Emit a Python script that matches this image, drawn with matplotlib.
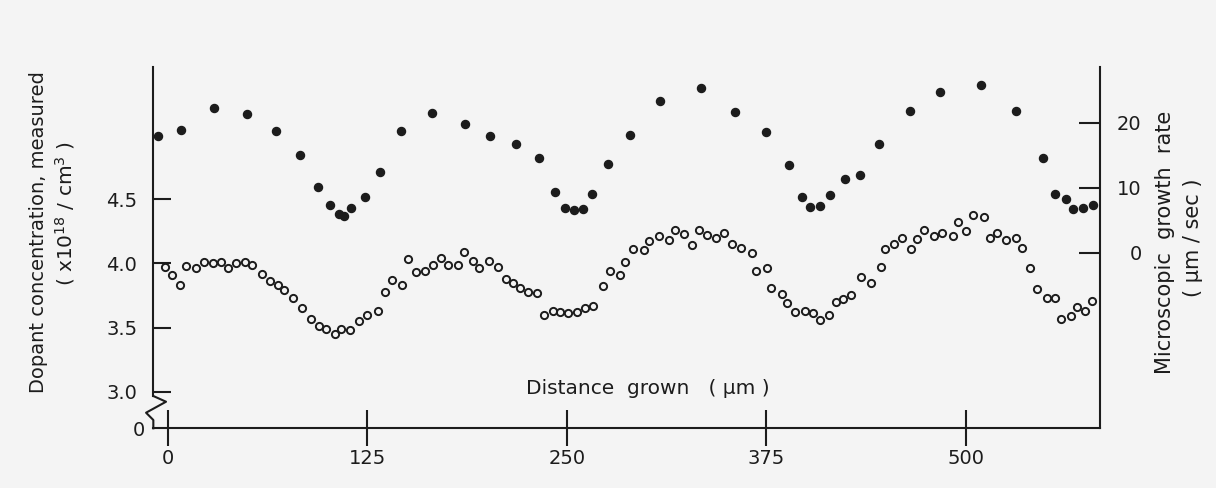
import matplotlib.pyplot as plt

# distance grown (um) and microscopic growth rate (um/sec), filled dots
x_rate = [-5.9, 8.5, 29.4, 49.8, 67.9, 83.1, 94.4, 101.9, 107.1, 110.6,
          115.0, 123.4, 133.0, 146.3, 165.7, 186.2, 201.8, 218.1, 232.5, 242.8,
          248.8, 254.5, 260.1, 265.8, 276.0, 289.6, 308.6, 334.0, 355.3, 374.9,
          389.3, 397.3, 402.4, 408.6, 414.8, 424.1, 433.5, 445.6, 464.8, 484.0,
          509.3, 531.3, 548.4, 555.5, 562.4, 567.2, 573.4, 579.7]
rate = [17.9, 18.9, 22.2, 21.3, 18.8, 15.1, 10.1, 7.4, 6.0, 5.6,
        6.9, 8.5, 12.4, 18.7, 21.5, 19.8, 17.9, 16.7, 14.5, 9.3,
        6.9, 6.6, 6.8, 9.0, 13.6, 18.1, 23.3, 25.4, 21.6, 18.6,
        13.5, 8.5, 7.0, 7.2, 8.9, 11.4, 11.9, 16.8, 21.8, 24.7,
        25.8, 21.8, 14.5, 9.0, 8.2, 6.7, 6.9, 7.3]

# distance grown (um) and measured dopant concentration (x10^18 /cm^3), open circles
x_conc = [-1.6, 3.0, 7.6, 11.4, 17.8, 22.7, 28.3, 33.7, 38.1, 43.1,
          48.5, 52.9, 59.4, 64.4, 69.2, 72.9, 78.6, 84.2, 89.7, 94.9,
          99.4, 104.7, 108.8, 114.3, 120.1, 125.1, 131.6, 136.4, 140.4, 146.6,
          150.6, 155.4, 161.4, 166.1, 171.3, 175.8, 181.7, 185.5, 191.5, 195.2,
          201.6, 206.8, 212.1, 216.3, 220.9, 225.9, 231.6, 235.9, 241.2, 246.0,
          251.0, 256.4, 261.4, 266.2, 272.5, 277.1, 283.3, 286.7, 291.7, 298.2,
          301.5, 307.8, 314.0, 317.6, 323.4, 328.4, 332.8, 338.0, 343.3, 348.5,
          353.7, 359.1, 365.8, 368.5, 375.2, 377.9, 384.6, 387.9, 393.1, 399.4,
          403.9, 408.8, 413.9, 418.7, 423.0, 428.0, 434.1, 440.3, 447.0, 449.5,
          455.1, 459.9, 465.6, 469.1, 473.5, 480.0, 485.0, 492.0, 495.2, 499.8,
          504.4, 511.1, 514.8, 519.6, 525.2, 531.3, 534.9, 539.9, 544.6, 550.5,
          555.5, 559.7, 565.6, 569.5, 574.7, 579.1]
conc = [3.97, 3.91, 3.83, 3.98, 3.96, 4.01, 4.00, 4.01, 3.96, 4.00,
        4.01, 3.99, 3.92, 3.86, 3.83, 3.79, 3.73, 3.65, 3.57, 3.51,
        3.49, 3.45, 3.49, 3.48, 3.55, 3.60, 3.63, 3.78, 3.87, 3.83,
        4.03, 3.93, 3.94, 3.99, 4.04, 3.99, 3.99, 4.09, 4.02, 3.96,
        4.02, 3.97, 3.88, 3.85, 3.81, 3.78, 3.77, 3.60, 3.63, 3.62,
        3.61, 3.62, 3.65, 3.67, 3.82, 3.94, 3.91, 4.01, 4.11, 4.10,
        4.17, 4.21, 4.18, 4.26, 4.23, 4.14, 4.26, 4.22, 4.20, 4.24,
        4.15, 4.12, 4.08, 3.94, 3.96, 3.81, 3.76, 3.69, 3.62, 3.63,
        3.61, 3.56, 3.60, 3.70, 3.72, 3.75, 3.89, 3.85, 3.97, 4.11,
        4.15, 4.20, 4.11, 4.19, 4.26, 4.21, 4.24, 4.21, 4.32, 4.25,
        4.38, 4.36, 4.20, 4.24, 4.18, 4.20, 4.12, 3.96, 3.80, 3.73,
        3.73, 3.57, 3.59, 3.66, 3.63, 3.71]

x_ticks = [0, 125, 250, 375, 500]
conc_ticks = [3.0, 3.5, 4.0, 4.5]
rate_ticks = [0, 10, 20]

ink = '#1c1c1c'
bg = '#f4f4f4'
plt.rcParams['font.family'] = 'DejaVu Sans'

fig = plt.figure(figsize=(12.16, 4.88), dpi=100, facecolor=bg)
ax = fig.add_axes([0.1261, 0.1223, 0.7785, 0.7404])
ax.set_facecolor(bg)
ax2 = ax.twinx()

ax.plot(x_conc, conc, 'o', mfc='none', mec=ink, mew=1.4, ms=5.2, ls='none')
ax2.plot(x_rate, rate, 'o', color=ink, ms=5.8, ls='none')

ymin = 2.715
ax.set_xlim(-8.9, 583.9)
ax.set_ylim(ymin, 5.529)
ax2.set_ylim(-27.0, 28.57)

for s in ['top', 'right']:
    ax.spines[s].set_visible(False)
for s in ['top', 'left', 'bottom']:
    ax2.spines[s].set_visible(False)
for s in ['left', 'bottom']:
    ax.spines[s].set_linewidth(1.5)
    ax.spines[s].set_color(ink)
ax2.spines['right'].set_linewidth(1.5)
ax2.spines['right'].set_color(ink)

# broken left axis
ax.spines['left'].set_bounds(2.967, 5.529)
ax.plot([0, 0.0134, -0.0077, 0, 0], [0.0894, 0.0736, 0.0432, 0.0230, 0],
        transform=ax.transAxes, color=ink, lw=1.5, clip_on=False)

ax.set_xticks(x_ticks)
ax.tick_params(axis='x', direction='inout', length=26, width=1.5, pad=2,
               labelsize=14, colors=ink)
ax.set_yticks([ymin] + conc_ticks)
ax.set_yticklabels(['0', '3.0', '3.5', '4.0', '4.5'])
ax.tick_params(axis='y', direction='in', length=13, width=1.5, pad=11.5,
               labelsize=14, colors=ink)
first = ax.yaxis.get_major_ticks()[0]
first.tick1line.set_visible(False)
first.set_pad(6)

ax2.set_yticks(rate_ticks)
ax2.tick_params(axis='y', direction='in', length=15, width=1.5, pad=30,
                labelsize=14, colors=ink)
for t in ax2.get_yticklabels():
    t.set_horizontalalignment('right')

ax.set_xlabel('Distance  grown   ( μm )', fontsize=14.5, color=ink)
ax.xaxis.label.set_va('center')
ax.xaxis.set_label_coords(0.5226, 0.1115)

ax.set_ylabel('Dopant concentration, measured', fontsize=14, color=ink)
ax.yaxis.label.set_va('center')
ax.yaxis.set_label_coords(-0.1218, 0.5433)
fig.text(0.0535, 0.5615, r'( x10$^{18}$ / cm$^{3}$ )', rotation=90,
         ha='center', va='center', fontsize=14.5, color=ink)

ax2.set_ylabel('Microscopic  growth  rate', fontsize=15, color=ink)
ax2.yaxis.label.set_va('center')
ax2.yaxis.label.set_rotation(90)
ax2.yaxis.set_label_coords(1.0687, 0.5156)
fig.text(0.981, 0.5123, '( μm / sec )', rotation=90,
         ha='center', va='center', fontsize=15, color=ink)

fig.savefig('out.png', dpi=100, facecolor=bg)
